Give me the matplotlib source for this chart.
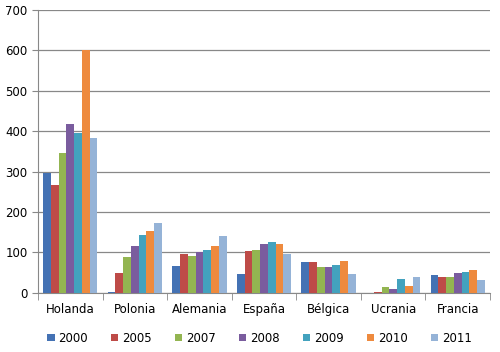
import matplotlib.pyplot as plt
import numpy as np

paises = ["Holanda", "Polonia", "Alemania", "España", "Bélgica", "Ucrania", "Francia"]
anios = ["2000", "2005", "2007", "2008", "2009", "2010", "2011"]
v2000 = [296, 3, 67, 47, 76, 0, 44]
v2005 = [268, 50, 95, 103, 76, 3, 39]
v2007 = [345, 88, 90, 105, 63, 15, 39]
v2008 = [418, 117, 102, 122, 65, 10, 48]
v2009 = [395, 142, 105, 125, 68, 35, 52]
v2010 = [600, 153, 115, 122, 78, 18, 57]
v2011 = [382, 173, 140, 95, 47, 40, 32]
series = [v2000, v2005, v2007, v2008, v2009, v2010, v2011]
colores = ["#4472B4", "#BE4B48", "#93B551", "#7A5C9E", "#43A2BE", "#EE8A3E", "#95B3D7"]

fig = plt.figure(figsize=(5, 3.52), dpi=100)
ax = fig.add_axes([0.076, 0.168, 0.904, 0.804])

x = np.arange(len(paises))
w = 0.12
for i, (vals, c, lab) in enumerate(zip(series, colores, anios)):
    ax.bar(x + (i - 3) * w, vals, w, color=c, label=lab, zorder=3)

ax.set_ylim(0, 700)
ax.set_yticks(range(0, 701, 100))
ax.set_xlim(-0.5, len(paises) - 0.5)
ax.set_xticks(x)
ax.set_xticklabels(paises)
ax.set_xticks(np.arange(-0.5, len(paises)), minor=True)
ax.tick_params(axis="x", which="major", length=0, pad=7, labelsize=8.5)
ax.tick_params(axis="x", which="minor", length=5, color="#888888")
ax.tick_params(axis="y", length=4, color="#888888", labelsize=8.5)
ax.yaxis.grid(True, color="#888888", linewidth=0.9, zorder=0)
for s in ["top", "right"]:
    ax.spines[s].set_visible(False)
for s in ["left", "bottom"]:
    ax.spines[s].set_color("#888888")

ax.legend(loc="upper center", bbox_to_anchor=(0.49, -0.1), ncol=7, frameon=False,
          fontsize=8.5, handlelength=0.6, handleheight=0.6, handletextpad=0.3,
          columnspacing=2.0)

fig.savefig("out.png", dpi=100)
